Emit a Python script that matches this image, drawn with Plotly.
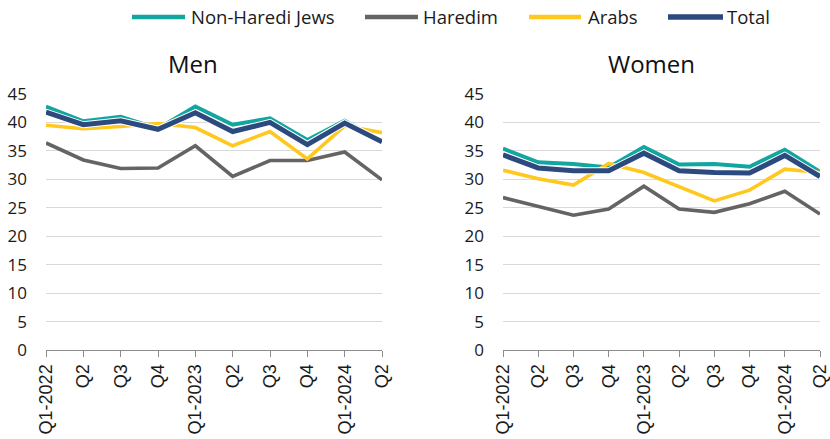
import plotly.graph_objects as go

quarters = ["Q1-2022", "Q2", "Q3", "Q4", "Q1-2023", "Q2", "Q3", "Q4", "Q1-2024", "Q2"]
y_ticks = [0, 5, 10, 15, 20, 25, 30, 35, 40, 45]

men_non_haredi = [42.8, 40.2, 41.0, 38.9, 42.8, 39.6, 40.7, 36.9, 40.3, 36.6]
men_haredim = [36.4, 33.4, 31.9, 32.0, 35.9, 30.5, 33.3, 33.3, 34.8, 29.9]
men_arabs = [39.5, 38.9, 39.3, 39.8, 39.1, 35.9, 38.4, 33.6, 39.4, 38.2]
men_total = [41.8, 39.6, 40.3, 38.8, 41.7, 38.4, 40.0, 36.1, 39.9, 36.6]

women_non_haredi = [35.4, 33.0, 32.7, 32.1, 35.7, 32.6, 32.7, 32.2, 35.2, 31.3]
women_haredim = [26.8, 25.3, 23.7, 24.8, 28.8, 24.8, 24.2, 25.7, 27.9, 23.9]
women_arabs = [31.6, 30.1, 29.0, 32.8, 31.2, 28.7, 26.2, 28.1, 31.8, 31.2]
women_total = [34.3, 32.0, 31.5, 31.5, 34.6, 31.5, 31.2, 31.1, 34.2, 30.5]

series_names = ["Non-Haredi Jews", "Haredim", "Arabs", "Total"]
colors = ["#13A5A0", "#646464", "#FFC81E", "#2C4A7E"]
widths = [4, 3.6, 3.6, 5]

W, H = 830, 439
x = list(range(len(quarters)))
fig = go.Figure()

panels = [
    ("x", "y", [men_non_haredi, men_haredim, men_arabs, men_total]),
    ("x2", "y2", [women_non_haredi, women_haredim, women_arabs, women_total]),
]

for xa, ya, data in panels:
    for i, (name, vals) in enumerate(zip(series_names, data)):
        if name == "Total":
            fig.add_trace(go.Scatter(x=x, y=vals, mode="lines", xaxis=xa, yaxis=ya,
                                     line=dict(color="white", width=7), showlegend=False,
                                     hoverinfo="skip"))
        fig.add_trace(go.Scatter(x=x, y=vals, mode="lines", name=name, xaxis=xa, yaxis=ya,
                                 line=dict(color=colors[i], width=widths[i]),
                                 showlegend=False))

font_family = "Open Sans, Noto Sans, sans-serif"
xcommon = dict(
    tickmode="array", tickvals=x, ticktext=quarters, tickangle=-90,
    range=[0, len(quarters) - 1], showgrid=False, zeroline=False, automargin=False,
    showline=True, linecolor="#8c8c8c", linewidth=1.3,
    ticks="outside", ticklen=6, tickcolor="#8c8c8c", tickwidth=1.3,
    tickfont=dict(size=18, color="#1a1a1a", family="Liberation Sans, Arial, sans-serif"),
)
ycommon = dict(
    range=[0, 45], tickmode="array", tickvals=y_ticks, automargin=False,
    showgrid=True, gridcolor="#d9d9d9", gridwidth=1.2, zeroline=False,
    showline=False, ticks="", ticklabelstandoff=18,
    tickfont=dict(size=17, color="#1a1a1a", family=font_family),
)

# custom legend (line sample + label), styled like the reference
legend_lines = [(132, 185), (365, 418), (529, 581), (668, 723)]
legend_text_x = [189, 421, 586, 725]
legend_y = 1 - 17 / H
shapes = []
annotations = []
for i, name in enumerate(series_names):
    x0, x1 = legend_lines[i]
    shapes.append(dict(type="line", xref="paper", yref="paper",
                       x0=x0 / W, x1=x1 / W, y0=legend_y, y1=legend_y,
                       line=dict(color=colors[i], width=4.5 if name != "Total" else 5.5)))
    annotations.append(dict(text=name, x=legend_text_x[i] / W, y=legend_y,
                            xref="paper", yref="paper", showarrow=False,
                            xanchor="left", yanchor="middle",
                            font=dict(size=18.5, color="#1a1a1a", family=font_family)))

annotations += [
    dict(text="Men", x=193 / W, y=(H - 64) / H, xref="paper", yref="paper",
         showarrow=False, font=dict(size=24, color="#111111", family=font_family),
         xanchor="center", yanchor="middle"),
    dict(text="Women", x=651 / W, y=(H - 64) / H, xref="paper", yref="paper",
         showarrow=False, font=dict(size=24, color="#111111", family=font_family),
         xanchor="center", yanchor="middle"),
]

fig.update_layout(
    width=W, height=H,
    margin=dict(l=0, r=0, t=0, b=0),
    paper_bgcolor="white", plot_bgcolor="white",
    font=dict(family=font_family, color="#1a1a1a"),
    showlegend=False,
    xaxis=dict(domain=[46 / W, 382 / W], anchor="y", **xcommon),
    yaxis=dict(domain=[(H - 350) / H, (H - 94) / H], anchor="x", **ycommon),
    xaxis2=dict(domain=[503 / W, 820 / W], anchor="y2", **xcommon),
    yaxis2=dict(domain=[(H - 350) / H, (H - 94) / H], anchor="x2", **ycommon),
    shapes=shapes,
    annotations=annotations,
)

fig.write_html("out.html", config={"displayModeBar": False},
               post_script="document.body.style.margin='0';document.body.style.overflow='hidden';")
